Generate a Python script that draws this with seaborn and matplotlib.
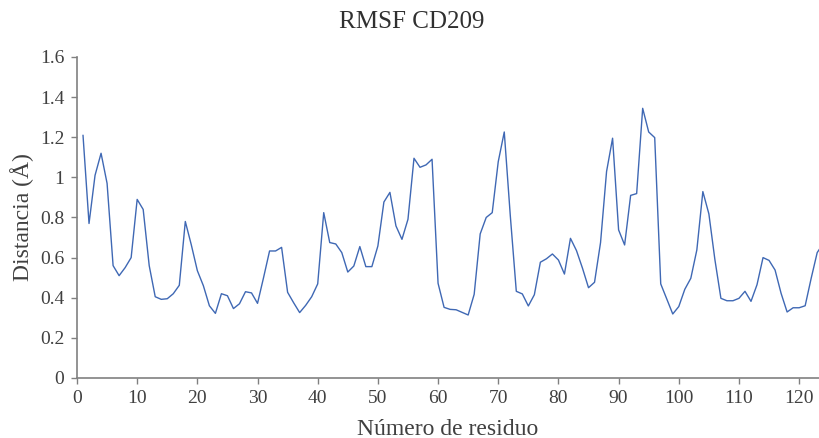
import matplotlib
matplotlib.use('Agg')
import matplotlib.pyplot as plt
import seaborn as sns
import pandas as pd

# RMSF por residuo
residuo = list(range(1, 125))
rmsf = [
    1.21, 0.77, 1.01, 1.12, 0.97, 0.56, 0.51, 0.55, 0.60, 0.89,
    0.84, 0.56, 0.405, 0.392, 0.395, 0.42, 0.462, 0.78, 0.663, 0.535,
    0.46, 0.36, 0.322, 0.42, 0.41, 0.346, 0.37, 0.43, 0.424, 0.372,
    0.50, 0.633, 0.633, 0.651, 0.427, 0.375, 0.326, 0.362, 0.405, 0.469,
    0.824, 0.675, 0.668, 0.625, 0.528, 0.558, 0.655, 0.555, 0.555, 0.658,
    0.877, 0.925, 0.758, 0.691, 0.791, 1.095, 1.05, 1.062, 1.09, 0.472,
    0.352, 0.342, 0.34, 0.327, 0.314, 0.417, 0.718, 0.80, 0.824, 1.078,
    1.226, 0.81, 0.432, 0.419, 0.359, 0.415, 0.577, 0.594, 0.618, 0.588,
    0.518, 0.696, 0.635, 0.547, 0.45, 0.477, 0.675, 1.029, 1.195, 0.738,
    0.663, 0.91, 0.919, 1.344, 1.226, 1.198, 0.469, 0.394, 0.319, 0.356,
    0.442, 0.497, 0.638, 0.929, 0.818, 0.59, 0.397, 0.385, 0.385, 0.397,
    0.432, 0.382, 0.465, 0.60, 0.586, 0.538, 0.422, 0.329, 0.35, 0.35,
    0.36, 0.497, 0.625, 0.67,
]
xticks = list(range(0, 121, 10))
yticks = [0, 0.2, 0.4, 0.6, 0.8, 1, 1.2, 1.4, 1.6]
ytick_labels = ['0', '0.2', '0.4', '0.6', '0.8', '1', '1.2', '1.4', '1.6']

df = pd.DataFrame({'residuo': residuo, 'rmsf': rmsf})

sns.set_style('ticks')
plt.rcParams['font.family'] = ['Liberation Serif', 'DejaVu Serif']

fig = plt.figure(figsize=(8.19, 4.38), dpi=100)
ax = fig.add_axes([0.094, 0.137, 0.906, 0.733])
sns.lineplot(data=df, x='residuo', y='rmsf', ax=ax, color='#3f68b4', linewidth=1.0)

ax.set_xlim(0, 123.3)
ax.set_ylim(0, 1.6)
ax.set_xticks(xticks)
ax.set_yticks(yticks)
ax.set_yticklabels(ytick_labels)
ax.tick_params(axis='both', colors='#808080', labelcolor='#404040', labelsize=14,
               length=4, width=1, pad=5)
for s in ['top', 'right']:
    ax.spines[s].set_visible(False)
for s in ['left', 'bottom']:
    ax.spines[s].set_color('#808080')
    ax.spines[s].set_linewidth(1.2)

ax.set_xlabel('Número de residuo', fontsize=17, color='#404040', labelpad=8)
ax.set_ylabel('Distancia (Å)', fontsize=17, color='#404040')
fig.text(0.503, 0.95, 'RMSF CD209', fontsize=18, color='#303030', ha='center', va='center')

fig.savefig('out.png', dpi=100)
